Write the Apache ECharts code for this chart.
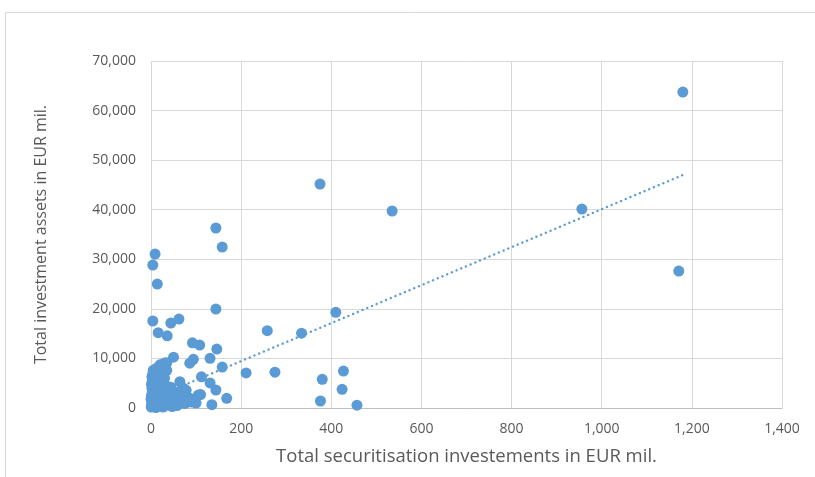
<!DOCTYPE html>
<html>
<head>
<meta charset="utf-8">
<script src="https://cdn.jsdelivr.net/npm/echarts@6/dist/echarts.min.js"></script>
<style>html,body{margin:0;padding:0;background:#fff}#c{width:815px;height:477px}</style>
</head>
<body>
<div id="c"></div>
<script>
// Securitisation investments (x, EUR mil.) vs total investment assets (y, EUR mil.)
const outlierX = [1180, 1171, 956, 535, 375, 410, 334, 258, 144, 158, 144, 9, 4, 14, 4, 62, 44, 16, 36, 92, 108, 146, 131, 158, 211, 275, 427, 380, 424, 376, 457, 112, 131, 144, 110, 168, 135, 79, 72, 94, 86, 50, 35];
const outlierY = [63740, 27630, 40140, 39740, 45180, 19300, 15100, 15600, 36310, 32470, 19950, 31060, 28840, 25010, 17550, 17950, 17140, 15200, 14550, 13150, 12700, 11880, 10020, 8250, 7080, 7220, 7460, 5790, 3770, 1410, 560, 6300, 5050, 3630, 2700, 1950, 680, 2280, 3970, 9820, 9050, 10250, 9140];
const clusterX = [0.5, 1, 2, 0, 1, 3, 2, 1, 3, 2, 4, 5, 6, 5, 7, 6, 8, 7, 9, 8, 10, 12, 11, 13, 12, 14, 15, 13, 16, 15, 17, 18, 20, 19, 21, 22, 20, 23, 24, 25, 22, 26, 28, 27, 29, 30, 32, 31, 33, 35, 30, 36, 38, 40, 42, 41, 44, 45, 48, 50, 52, 47, 55, 58, 60, 62, 64, 66, 70, 72, 75, 78, 80, 85, 90, 95, 100, 105, 35, 20, 30, 5, 10, 15];
const clusterY = [200, 600, 1200, 1800, 2500, 3200, 4000, 4800, 5500, 6300, 6900, 300, 900, 1500, 2200, 2900, 3600, 4300, 5100, 5800, 7400, 8000, 100, 700, 1300, 2000, 2700, 3400, 4100, 4700, 5400, 6100, 6800, 400, 1000, 1700, 2400, 3000, 3800, 4500, 5200, 5900, 7000, 200, 900, 1500, 2200, 3000, 3700, 4400, 6000, 600, 1300, 2000, 2700, 3500, 4200, 800, 1600, 2400, 3300, 300, 1100, 500, 1900, 2800, 5300, 1300, 4000, 2300, 900, 3600, 1500, 2000, 1200, 1800, 1000, 2600, 7600, 8700, 9100, 7600, 6400, 7900];
// Linear trendline end points
const trendX = [0, 1180];
const trendY = [1800, 47000];
const xTicks = [0, 200, 400, 600, 800, 1000, 1200, 1400];
const yTicks = [0, 10000, 20000, 30000, 40000, 50000, 60000, 70000];

const pts = [];
outlierX.forEach((x, i) => pts.push([x, outlierY[i]]));
clusterX.forEach((x, i) => pts.push([x, clusterY[i]]));
const trend = trendX.map((x, i) => [x, trendY[i]]);

const fmt = v => v.toLocaleString('en-US');
const font = 'Open Sans';
const chart = echarts.init(document.getElementById('c'));
chart.setOption({
  animation: false,
  graphic: [{
    type: 'rect', shape: {x: 5.5, y: 12.5, width: 1000, height: 1000},
    style: {fill: 'none', stroke: '#d9d9d9', lineWidth: 1}, silent: true, z: -1
  }],
  grid: {left: 151, right: 33, top: 61, bottom: 69},
  xAxis: {
    type: 'value', min: xTicks[0], max: xTicks[xTicks.length - 1], interval: 200,
    name: 'Total securitisation investements in EUR mil.', nameLocation: 'middle', nameGap: 39,
    nameTextStyle: {fontFamily: font, fontSize: 18.5, color: '#595959'},
    axisLine: {show: true, lineStyle: {color: '#bfbfbf', width: 1}},
    axisTick: {show: false},
    axisLabel: {fontFamily: font, fontSize: 14, color: '#595959', margin: 14, formatter: fmt},
    splitLine: {show: true, lineStyle: {color: '#d9d9d9', width: 1}}
  },
  yAxis: {
    type: 'value', min: yTicks[0], max: yTicks[yTicks.length - 1], interval: 10000,
    name: 'Total investment assets in EUR mil.', nameLocation: 'middle', nameGap: 102, nameRotate: 90,
    nameTextStyle: {fontFamily: font, fontSize: 16, color: '#595959'},
    axisLine: {show: false},
    axisTick: {show: false},
    axisLabel: {fontFamily: font, fontSize: 14, color: '#595959', margin: 15, formatter: fmt},
    splitLine: {show: true, lineStyle: {color: '#d9d9d9', width: 1}}
  },
  series: [{
    type: 'scatter', data: pts, symbolSize: 11,
    itemStyle: {color: '#5b9bd5', opacity: 1}, z: 2
  }, {
    type: 'line', data: trend, symbol: 'none',
    lineStyle: {color: '#5b9bd5', width: 2.4, type: [0.1, 5], cap: 'round'}, z: 3
  }]
});
</script>
</body>
</html>
